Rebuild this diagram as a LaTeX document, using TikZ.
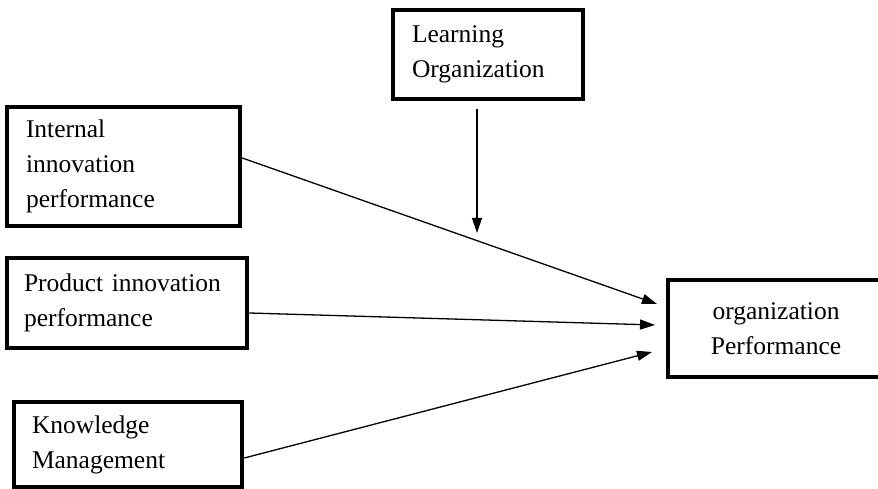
\documentclass[tikz,border=0pt]{standalone}
\usepackage{fontspec}
\setmainfont{Liberation Serif}
\usetikzlibrary{arrows.meta}
\begin{document}
\begin{tikzpicture}[x=1pt,y=-1pt,
  boxstyle/.style={draw, line width=4.5pt, rectangle, inner ysep=0pt,
    font=\fontsize{25.5}{35}\selectfont},
  conn/.style={line width=1.3pt, -{Triangle[length=15pt,width=10pt]}}]
\useasboundingbox (0,0) rectangle (878,489);
\fill[white] (0,0) rectangle (878,489);
% boxes: centre, width, height
\node[boxstyle, minimum height=89pt, inner xsep=19pt, text width=152pt, align=left] (lo) at (488,54.5) {Learning\\Organization};
\node[boxstyle, minimum height=119pt, inner xsep=19pt, text width=195pt, align=left] (ii) at (123.5,166.5) {Internal\\innovation\\performance};
\node[boxstyle, minimum height=90pt, inner xsep=17pt, text width=206pt, align=left] (pi) at (127,303) {Product innovation\\performance};
\node[boxstyle, minimum height=85pt, inner xsep=18pt, text width=192pt, align=left] (km) at (128,444.5) {Knowledge\\Management};
\node[boxstyle, minimum height=97pt, inner xsep=10pt, text width=196pt, align=center] (op) at (776,328.5) {organization\\Performance};
% arrow tips
\coordinate (t1) at (657,304);
\coordinate (t2) at (655,325);
\coordinate (t3) at (652,352);
\coordinate (t4) at (477,233);
\draw[conn] ([yshift=8.5pt]ii.east) -- (t1);
\draw[conn] ([yshift=-10pt]pi.east) -- (t2);
\draw[conn] ([yshift=-13.5pt]km.east) -- (t3);
\draw[conn] ([xshift=-11pt,yshift=-8pt]lo.south) -- (t4);
\end{tikzpicture}
\end{document}
